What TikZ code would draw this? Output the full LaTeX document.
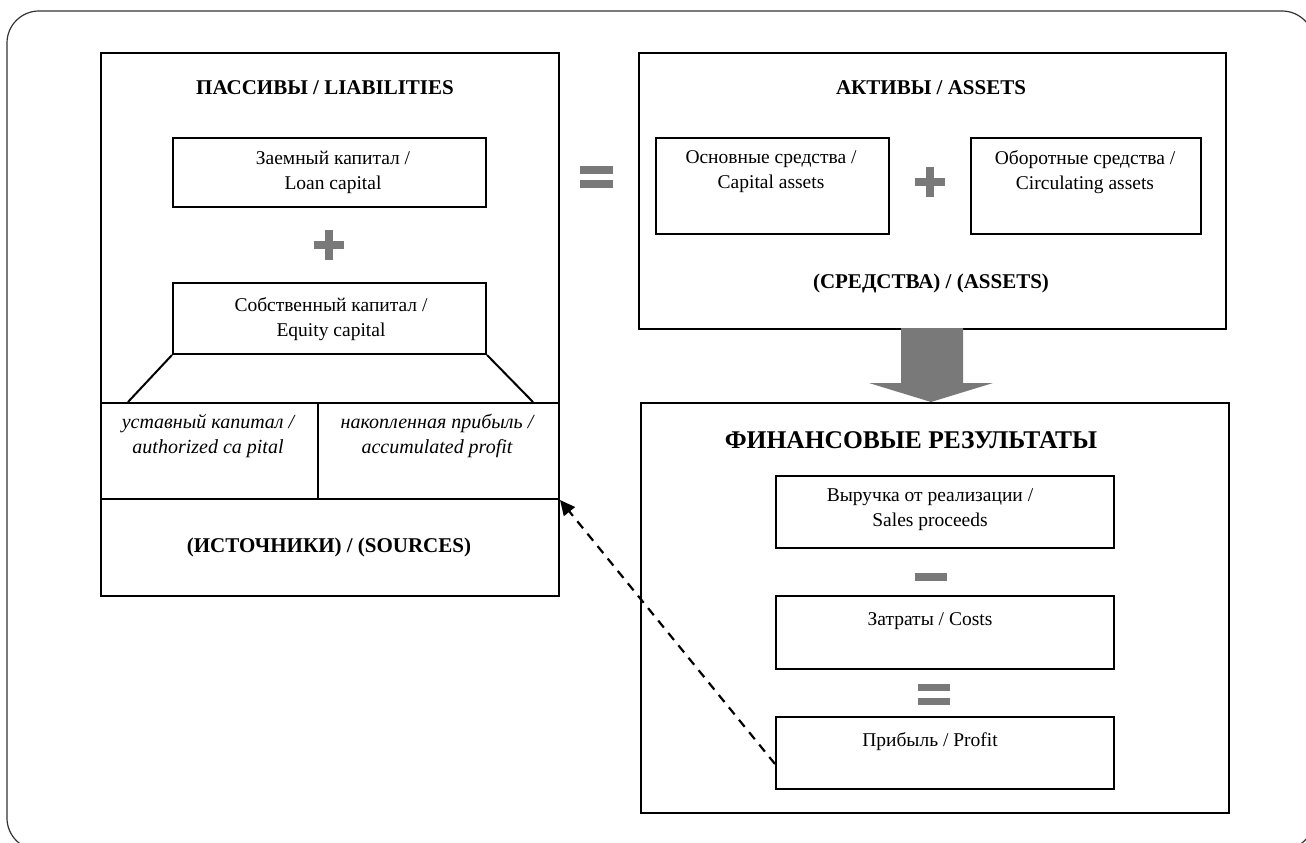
\documentclass[tikz,border=0pt]{standalone}
\usepackage{fontspec}
\setmainfont{Liberation Serif}
\usetikzlibrary{arrows.meta,calc}
\begin{document}
\begin{tikzpicture}[x=1pt,y=-1pt,
  box/.style={draw, line width=2pt, inner sep=0pt, anchor=north west},
  txt/.style={align=center, inner sep=0pt, font=\fontsize{19.5}{25}\selectfont},
  itxt/.style={align=center, inner sep=0pt, font=\fontsize{20}{25}\selectfont\itshape},
  ttl/.style={align=center, inner sep=0pt, font=\fontsize{21}{24}\selectfont\bfseries},
  bigttl/.style={align=center, inner sep=0pt, font=\fontsize{25.5}{28}\selectfont\bfseries},
  sym/.style={fill=gray!95!black, draw=none},
  ln/.style={line width=2pt}
]
\useasboundingbox (0,0) rectangle (1306,843);
\begin{scope}
\clip (0,0) rectangle (1306,843);
\draw[line width=1.2pt, black!80] (7,11) [rounded corners=32pt] -- (1314,11) -- (1314,850) -- (7,850) -- cycle;
\end{scope}

% Liabilities
\node[box, minimum width=458pt, minimum height=543pt] (liab) at (100,52) {};
\node[ttl] (liabt) at (325,88) {ПАССИВЫ / LIABILITIES};
\node[box, minimum width=313pt, minimum height=69pt] (loan) at (172,137) {};
\node[txt] (loant) at (333,172) {Заемный капитал /\\ Loan capital};
\fill[sym] (314,241) rectangle (344,249);
\fill[sym] (325,230) rectangle (333,260);
\node[box, minimum width=313pt, minimum height=71pt] (eq) at (172,282) {};
\node[txt] (eqt) at (331,319) {Собственный капитал /\\ Equity capital};
\node[box, minimum width=217pt, minimum height=96pt] (auth) at (100,402) {};
\node[box, minimum width=241pt, minimum height=96pt] (accum) at (317,402) {};
\node[itxt] (autht) at (208,436) {уставный капитал /\\ authorized ca pital};
\node[itxt] (accumt) at (437,436) {накопленная прибыль /\\ accumulated profit};
\coordinate (tl) at (128,402);
\coordinate (tr) at (533,402);
\draw[ln] (eq.south west) -- (tl);
\draw[ln] (eq.south east) -- (tr);
\node[ttl] (src) at (329,547) {(ИСТОЧНИКИ) / (SOURCES)};

% equals
\fill[sym] (580,166) rectangle (613,174);
\fill[sym] (580,180) rectangle (613,188);

% Assets
\node[box, minimum width=587pt, minimum height=276pt] (assets) at (638,52) {};
\node[ttl] (assetst) at (931,88) {АКТИВЫ / ASSETS};
\node[box, minimum width=233pt, minimum height=96pt] (os) at (655,137) {};
\node[txt] (ost) at (771,172) {Основные средства /\\ Capital assets};
\node[box, minimum width=230pt, minimum height=96pt] (ob) at (970,137) {};
\node[txt] (obt) at (1085,172) {Оборотные средства /\\ Circulating assets};
\fill[sym] (915,178) rectangle (945,186);
\fill[sym] (926,167) rectangle (934,197);
\node[ttl] (sred) at (931,283) {(СРЕДСТВА) / (ASSETS)};

% big arrow
\fill[sym] (901,328) -- (963,328) -- (963,383) -- (993,383) -- (931,402) -- (869,383) -- (901,383) -- cycle;

% Financial results
\node[box, minimum width=588pt, minimum height=410pt] (fin) at (640,402) {};
\node[bigttl] (fint) at (911,440) {ФИНАНСОВЫЕ РЕЗУЛЬТАТЫ};
\node[box, minimum width=338pt, minimum height=72pt] (rev) at (775,475) {};
\node[txt] (revt) at (930,510) {Выручка от реализации /\\ Sales proceeds};
\fill[sym] (915,573) rectangle (947,581);
\node[box, minimum width=338pt, minimum height=73pt] (cost) at (775,595) {};
\node[txt] (costt) at (930,621) {Затраты / Costs};
\fill[sym] (918,684) rectangle (950,691);
\fill[sym] (918,698) rectangle (950,705);
\node[box, minimum width=338pt, minimum height=72pt] (prof) at (775,716) {};
\node[txt] (proft) at (930,742) {Прибыль / Profit};

\draw[line width=2.2pt, dash pattern=on 9pt off 7pt, -{Triangle[length=15pt,width=14pt]}] (prof.west) ++(0,11) coordinate (ps) (ps) -- (accum.south east);
\end{tikzpicture}
\end{document}
